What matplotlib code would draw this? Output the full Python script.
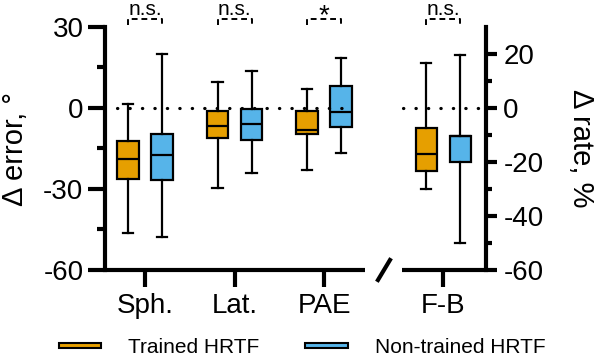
import numpy as np
import matplotlib
matplotlib.use("Agg")
import matplotlib.pyplot as plt
from matplotlib.patches import Patch

plt.rcParams['font.family'] = ['Liberation Sans', 'DejaVu Sans']
plt.rcParams['axes.unicode_minus'] = False

# categories and box stats (whisker low, q1, median, q3, whisker high)
categories = ["Sph.", "Lat.", "PAE", "F-B"]
cat_pos = [1, 2, 3, 4.33]
trained_lo = [-46.2, -29.5, -22.8, -30.0]
trained_q1 = [-26.3, -11.2, -9.5, -23.2]
trained_med = [-18.9, -6.5, -8.1, -17.0]
trained_q3 = [-12.2, -1.0, -1.2, -7.3]
trained_hi = [1.5, 9.7, 7.1, 16.5]

nontrained_lo = [-47.8, -24.0, -16.8, -50.0]
nontrained_q1 = [-26.5, -12.0, -6.9, -20.0]
nontrained_med = [-17.4, -5.9, -1.6, -10.4]
nontrained_q3 = [-9.5, -0.2, 8.3, -10.4]
nontrained_hi = [19.9, 13.7, 18.6, 19.6]

signif = ["n.s.", "n.s.", "*", "n.s."]

orange = "#E69F00"
blue = "#56B4E9"

fig = plt.figure(figsize=(5.96, 3.57), dpi=100)
ax = fig.add_axes([105/596, 1-270/357, 381/596, 243/357])

def stats(lo, q1, med, q3, hi):
    return [dict(whislo=a, q1=b, med=c, q3=d, whishi=e, fliers=[])
            for a, b, c, d, e in zip(lo, q1, med, q3, hi)]

off = 0.19
bw = 0.235
for st, shift, col in [(stats(trained_lo, trained_q1, trained_med, trained_q3, trained_hi), -off, orange),
                       (stats(nontrained_lo, nontrained_q1, nontrained_med, nontrained_q3, nontrained_hi), off, blue)]:
    ax.bxp(st, positions=[p + shift for p in cat_pos], widths=bw, patch_artist=True,
           showfliers=False, manage_ticks=False,
           boxprops=dict(facecolor=col, edgecolor='black', linewidth=1.6),
           medianprops=dict(color='black', linewidth=1.6),
           whiskerprops=dict(color='black', linewidth=1.6),
           capprops=dict(color='black', linewidth=1.6), capwidths=0.12)

# zero dotted lines
dot = dict(color='black', lw=2.3, linestyle=(0, (0.1, 3.8)), dash_capstyle='round', zorder=3)
ax.plot([0.687, 3.324], [0, 0], **dot)
ax.plot([3.883, 4.81], [0, 0], **dot)

# significance brackets
for p, s in zip(cat_pos, signif):
    x0, x1 = p - off, p + off
    ax.plot([x0, x0, x1, x1], [30.7, 33, 33, 30.7], color='black', lw=1.4,
            linestyle=(0, (3, 2)), clip_on=False)
    if s == "*":
        ax.text(p, 31.5, s, ha='center', va='baseline', fontsize=20, clip_on=False)
    else:
        ax.text(p, 34.4, s, ha='center', va='baseline', fontsize=15, clip_on=False)

ax.set_xlim(0.553, 4.81)
ax.set_ylim(-60, 30)
ax.set_yticks([-60, -30, 0, 30])
ax.set_yticks([-45, -15, 15], minor=True)
ax.set_xticks(cat_pos)
ax.set_xticklabels(categories)
ax.tick_params(axis='y', which='major', length=12, width=3, labelsize=20, pad=3.5)
ax.tick_params(axis='y', which='minor', length=6, width=3)
ax.tick_params(axis='x', length=12, width=3, labelsize=20, pad=4.5)
ax.spines['top'].set_visible(False)
ax.spines['right'].set_visible(False)
ax.spines['bottom'].set_visible(False)
ax.spines['left'].set_linewidth(3)
ax.set_ylabel("Δ error, °", fontsize=21)
ax.yaxis.set_label_coords(-0.2, 0.5)

# broken bottom axis
tr = ax.get_xaxis_transform()
ax.plot([0.553, 3.46], [0, 0], transform=tr, color='black', lw=3,
        solid_capstyle='butt', clip_on=False)
ax.plot([3.87, 4.81], [0, 0], transform=tr, color='black', lw=3,
        solid_capstyle='butt', clip_on=False)
ax.plot([3.603, 3.737], [-63.7, -56.3], color='black', lw=3, clip_on=False)

ax2 = ax.twinx()
ax2.set_ylim(-60, 30)
ax2.set_yticks([-60, -40, -20, 0, 20])
ax2.set_yticks([-50, -30, -10, 10], minor=True)
ax2.tick_params(axis='y', which='major', length=8, width=3, labelsize=20, pad=4.5)
ax2.tick_params(axis='y', which='minor', length=4.5, width=3)
for s in ['top', 'left', 'bottom']:
    ax2.spines[s].set_visible(False)
ax2.spines['right'].set_linewidth(3)
ax2.set_ylabel("Δ rate, %", fontsize=21, rotation=270, va='bottom')
ax2.yaxis.set_label_coords(1.213, 0.5)

handles = [Patch(facecolor=orange, edgecolor='black', lw=1.5, label="Trained HRTF"),
           Patch(facecolor=blue, edgecolor='black', lw=1.5, label="Non-trained HRTF")]
fig.legend(handles=handles, loc='center', bbox_to_anchor=(0.507, 0.027), ncol=2,
           frameon=False, fontsize=15, handlelength=2.05, handleheight=0.02,
           handletextpad=1.3, columnspacing=2.2, borderpad=0, borderaxespad=0)

fig.savefig("out.png", dpi=100)
